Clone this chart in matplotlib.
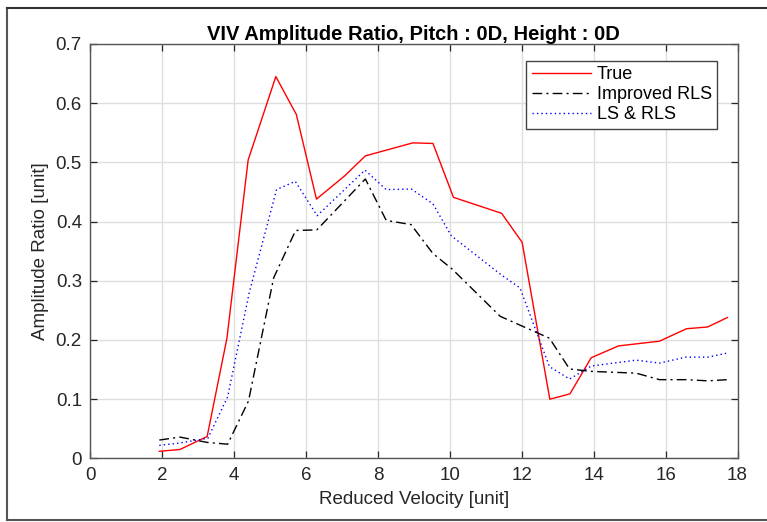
import matplotlib
matplotlib.use("Agg")
import matplotlib.pyplot as plt
from matplotlib.lines import Line2D

plt.rcParams['font.family'] = ['Liberation Sans', 'DejaVu Sans']

# Data
true_x = [1.92, 2.49, 3.25, 3.80, 4.39, 5.16, 5.73, 6.29, 7.07, 7.65, 8.97, 9.53,
          10.10, 11.44, 12.01, 12.78, 13.34, 13.93, 14.69, 15.83, 16.58, 17.17, 17.72]
true_y = [0.012, 0.015, 0.037, 0.203, 0.504, 0.645, 0.581, 0.438, 0.477, 0.511, 0.533, 0.532,
          0.441, 0.414, 0.365, 0.100, 0.109, 0.170, 0.190, 0.198, 0.219, 0.222, 0.238]

irls_x = [1.92, 2.49, 3.25, 3.82, 4.40, 5.10, 5.71, 6.30, 7.65, 8.23, 8.92, 9.53,
          10.06, 11.40, 12.77, 13.33, 13.93, 15.18, 15.83, 16.58, 17.17, 17.72]
irls_y = [0.031, 0.036, 0.027, 0.024, 0.097, 0.305, 0.385, 0.386, 0.472, 0.402, 0.395, 0.346,
          0.320, 0.240, 0.203, 0.151, 0.147, 0.144, 0.133, 0.133, 0.131, 0.133]

lsrls_x = [1.92, 2.49, 3.27, 3.82, 4.42, 5.18, 5.70, 6.31, 7.64, 8.23, 8.93, 9.53,
           10.04, 11.43, 11.95, 12.77, 13.33, 13.93, 15.18, 15.83, 16.56, 17.17, 17.72]
lsrls_y = [0.022, 0.026, 0.034, 0.104, 0.280, 0.454, 0.468, 0.410, 0.487, 0.454, 0.455, 0.430,
           0.376, 0.310, 0.288, 0.155, 0.134, 0.156, 0.166, 0.161, 0.171, 0.171, 0.178]

x_ticks = [0, 2, 4, 6, 8, 10, 12, 14, 16, 18]
y_ticks = [0, 0.1, 0.2, 0.3, 0.4, 0.5, 0.6, 0.7]
y_tick_labels = ['0', '0.1', '0.2', '0.3', '0.4', '0.5', '0.6', '0.7']

W, H = 767, 522
fig = plt.figure(figsize=(W / 100, H / 100), dpi=100)
fig.patch.set_facecolor('white')

# outer frame
fig.add_artist(Line2D([7 / W, 7 / W], [2 / H, 1 - 8 / H], transform=fig.transFigure,
                      color='#555555', lw=1.5))
fig.add_artist(Line2D([7 / W, 1.0], [1 - 8 / H, 1 - 8 / H], transform=fig.transFigure,
                      color='#333333', lw=1.5))
fig.add_artist(Line2D([7 / W, 1.0], [2 / H, 2 / H], transform=fig.transFigure,
                      color='#555555', lw=1.5))

left, right, bottom, top = 90.3, 737.5, 458.4, 44.0
ax = fig.add_axes([left / W, 1 - bottom / H, (right - left) / W, (bottom - top) / H])

ax.plot(true_x, true_y, color='#ff0000', lw=1.0, label='True')
ax.plot(irls_x, irls_y, color='black', lw=1.0, linestyle=(0, (7, 3, 1.5, 3)), label='Improved RLS')
ax.plot(lsrls_x, lsrls_y, color='#0000ff', lw=1.0, linestyle=(0, (1, 2.2)), label='LS & RLS')

ax.set_xlim(0, 18)
ax.set_ylim(0, 0.7)
ax.set_xticks(x_ticks)
ax.set_yticks(y_ticks)
ax.set_yticklabels(y_tick_labels)
ax.grid(True, color='#dedede', lw=1.0)
ax.set_axisbelow(True)
ax.tick_params(direction='in', top=True, right=True, length=5, width=0.9,
               labelsize=13.5, colors='#262626', pad=6)
for s in ax.spines.values():
    s.set_color('#555555')
    s.set_linewidth(1.0)

ax.set_xlabel('Reduced Velocity [unit]', fontsize=13.5, color='#262626', labelpad=5)
ax.set_ylabel('Amplitude Ratio [unit]', fontsize=13.5, color='#262626', labelpad=5)
ax.set_title('VIV Amplitude Ratio, Pitch : 0D, Height : 0D', fontsize=14.5, fontweight='bold',
             color='black', pad=3)

leg = ax.legend(loc='upper right', bbox_to_anchor=((717.3 - left) / (right - left),
                                                    (bottom - 60.7) / (bottom - top)),
                fontsize=13, frameon=True, fancybox=False, framealpha=1.0,
                edgecolor='#444444', handlelength=3.3, handletextpad=0.3,
                borderpad=0.3, labelspacing=0.17, borderaxespad=0)
leg.get_frame().set_linewidth(1.0)

fig.savefig('out.png', dpi=100, facecolor='white')
